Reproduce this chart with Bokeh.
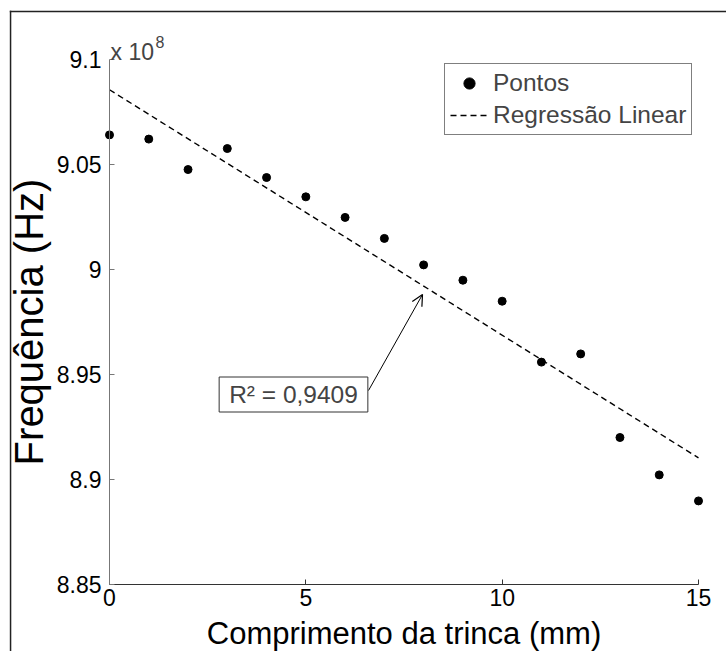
from bokeh.plotting import figure
from bokeh.models import (Range1d, FixedTicker, CustomJSTickFormatter, Legend, LegendItem,
                          Label, Arrow, OpenHead, BoxAnnotation, LinearAxis)
from bokeh.embed import file_html
from bokeh.resources import INLINE

# ---- data ----
length_mm = [0, 1, 2, 3, 4, 5, 6, 7, 8, 9, 10, 11, 12, 13, 14, 15]
freq_hz = [9.0641e8, 9.0621e8, 9.0476e8, 9.0576e8, 9.0438e8, 9.0346e8, 9.0248e8, 9.0148e8,
           9.0022e8, 8.9949e8, 8.9849e8, 8.9559e8, 8.9598e8, 8.9200e8, 8.9022e8, 8.8898e8]
reg_x = [0, 15]
reg_y = [9.0856e8, 8.9103e8]
x_ticks = [0, 5, 10, 15]
y_ticks = [8.85e8, 8.9e8, 8.95e8, 9.0e8, 9.05e8, 9.1e8]
x_lim = (0, 15)
y_lim = (8.85e8, 9.1e8)
r2_text = "R² = 0,9409"

FONT = "Liberation Sans"

# ---- layout (pixels on the 726x651 canvas) ----
W, H = 726, 651
AX_L, AX_R, AX_T, AX_B = 109, 698, 59, 584


def px2x(px):
    return x_lim[0] + (px - AX_L) / (AX_R - AX_L) * (x_lim[1] - x_lim[0])


def px2y(py):
    return y_lim[1] - (py - AX_T) / (AX_B - AX_T) * (y_lim[1] - y_lim[0])


p = figure(width=W, height=H, output_backend="svg", toolbar_location=None,
           x_axis_location=None, y_axis_location=None,
           x_range=Range1d(px2x(0), px2x(W)), y_range=Range1d(px2y(H), px2y(0)),
           min_border=0)
p.background_fill_color = "white"
p.border_fill_color = "white"
p.outline_line_color = None
p.grid.visible = False

xaxis = LinearAxis(fixed_location=y_lim[0], bounds=x_lim, ticker=FixedTicker(ticks=x_ticks))
yaxis = LinearAxis(fixed_location=x_lim[0], bounds=y_lim, ticker=FixedTicker(ticks=y_ticks),
                   formatter=CustomJSTickFormatter(
                       code="return parseFloat((tick/1e8).toFixed(2)).toString();"))
for ax in (xaxis, yaxis):
    ax.major_tick_in = 5
    ax.major_tick_out = 0
    ax.minor_tick_line_color = None
    ax.major_label_text_font = FONT
    ax.major_label_text_font_size = "23px"
    ax.major_label_text_color = "black"
    ax.axis_label_text_font = FONT
    ax.axis_label_text_font_style = "normal"
    ax.axis_label_text_color = "black"
xaxis.axis_line_color = "#333333"
xaxis.major_tick_line_color = "#333333"
yaxis.axis_line_color = "#777777"
yaxis.major_tick_line_color = "#777777"
xaxis.major_label_standoff = 4
yaxis.major_label_standoff = 8
xaxis.axis_label = "Comprimento da trinca (mm)"
yaxis.axis_label = "Frequência (Hz)"
xaxis.axis_label_text_font_size = "31px"
yaxis.axis_label_text_font_size = "40px"
xaxis.axis_label_standoff = 7
yaxis.axis_label_standoff = 3
p.add_layout(xaxis, "below")
p.add_layout(yaxis, "left")

r_reg = p.line(reg_x, reg_y, line_color="black", line_dash="6 4", line_width=1.4)
r_pts = p.scatter(length_mm, freq_hz, size=8, color="black")

legend = Legend(items=[LegendItem(label="Pontos", renderers=[r_pts]),
                       LegendItem(label="Regressão Linear", renderers=[r_reg])],
                location=(444, H - 135), padding=5, spacing=4,
                label_height=28, glyph_height=28, glyph_width=38, label_standoff=5,
                label_text_font=FONT, label_text_font_size="24.5px",
                border_line_color="black", border_line_width=1,
                background_fill_color="white", background_fill_alpha=1)
p.add_layout(legend)

# "x 10^8" multiplier above the y axis
p.add_layout(Label(x=px2x(110), y=px2y(51), text="x 10",
                   text_baseline="alphabetic", text_font=FONT, text_font_size="23px"))
p.add_layout(Label(x=px2x(155), y=px2y(41), text="8",
                   text_baseline="alphabetic", text_font=FONT, text_font_size="16px"))

# R² annotation with arrow
p.add_layout(Arrow(end=OpenHead(size=11, line_width=1.2, line_color="black"),
                   x_start=px2x(368), y_start=px2y(390), x_end=px2x(422), y_end=px2y(294),
                   line_width=1, line_color="black"))
p.add_layout(Label(x=px2x(293), y=px2y(394), text=r2_text, text_align="center",
                   text_baseline="middle", text_font=FONT, text_font_size="24.5px",
                   border_line_color="#333333", border_line_width=1,
                   background_fill_color="white", padding=(10, 4)))

# outer frame of the picture: only its left and top edges are visible
p.add_layout(BoxAnnotation(left=px2x(9.3), right=px2x(10.8), top=px2y(10.3), bottom=None,
                           fill_color="#222222", fill_alpha=1.0, line_color=None))
p.add_layout(BoxAnnotation(left=px2x(9.3), right=None, top=px2y(10.3), bottom=px2y(11.8),
                           fill_color="#222222", fill_alpha=1.0, line_color=None))

open("out.html", "w").write(file_html(p, INLINE))
